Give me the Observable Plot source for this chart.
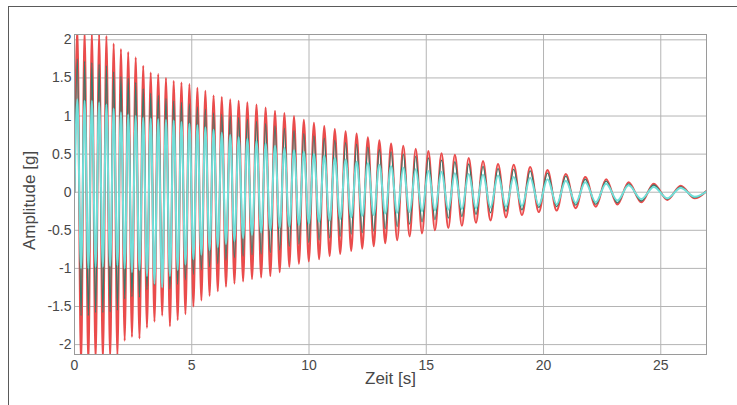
<!DOCTYPE html>
<html>
<head>
<meta charset="utf-8">
<script src="https://cdn.jsdelivr.net/npm/d3@7"></script>
<script src="https://cdn.jsdelivr.net/npm/@observablehq/plot@0.6"></script>
<style>
  html, body { margin: 0; padding: 0; background: #fff; overflow: hidden; }
  #wrap { position: relative; width: 737px; height: 405px; }
  #outer { position: absolute; left: 8px; top: 6px; width: 800px; height: 500px;
           border-left: 1.5px solid #5a5a5a; border-top: 1.5px solid #5a5a5a; }
  #chart { position: absolute; left: 0; top: 0; }
</style>
</head>
<body>
<div id="wrap"><div id="outer"></div><div id="chart"></div></div>
<script>
// tick labels
const xTicks = [0, 5, 10, 15, 20, 25];
const yTicks = [-2, -1.5, -1, -0.5, 0, 0.5, 1, 1.5, 2];

// times [s] of the positive peaks and of the following troughs
const peakTimes = [0.12,0.43,0.74,1.05,1.36,1.67,1.98,2.29,2.61,2.93,3.25,3.57,3.9,4.23,4.56,4.9,5.24,5.58,5.93,6.28,6.64,7.0,7.37,7.76,8.15,8.55,8.95,9.36,9.78,10.21,10.65,11.1,11.56,12.03,12.51,13.0,13.5,14.02,14.55,15.09,15.65,16.22,16.81,17.42,18.06,18.73,19.43,20.17,20.95,21.78,22.67,23.63,24.7,25.85];
const troughTimes = [0.28,0.59,0.9,1.21,1.52,1.83,2.14,2.45,2.77,3.09,3.41,3.74,4.07,4.4,4.73,5.07,5.41,5.76,6.11,6.46,6.82,7.19,7.57,7.96,8.35,8.75,9.16,9.57,9.99,10.43,10.88,11.33,11.8,12.27,12.76,13.25,13.76,14.29,14.82,15.37,15.94,16.52,17.12,17.74,18.4,19.08,19.8,20.56,21.37,22.23,23.15,24.17,25.28,26.45];
const startEndTimes = [0, 27];

// red signal [g]
const redPeaks = [2.15,2.12,2.1,2.08,2.05,1.95,1.88,1.84,1.77,1.66,1.57,1.55,1.5,1.46,1.44,1.42,1.37,1.33,1.27,1.25,1.22,1.2,1.18,1.15,1.11,1.07,1.04,1.0,0.95,0.91,0.87,0.83,0.8,0.77,0.72,0.68,0.64,0.61,0.57,0.54,0.51,0.49,0.45,0.41,0.37,0.36,0.33,0.29,0.24,0.2,0.17,0.13,0.11,0.085];
const redTroughs = [-2.25,-2.25,-2.2,-2.2,-2.18,-2.15,-1.95,-1.9,-1.92,-1.78,-1.7,-1.62,-1.76,-1.68,-1.6,-1.5,-1.42,-1.36,-1.3,-1.24,-1.2,-1.17,-1.14,-1.12,-1.1,-1.05,-0.98,-0.94,-0.91,-0.88,-0.84,-0.81,-0.77,-0.74,-0.71,-0.67,-0.63,-0.58,-0.54,-0.5,-0.47,-0.44,-0.4,-0.37,-0.33,-0.3,-0.26,-0.24,-0.21,-0.19,-0.16,-0.13,-0.1,-0.08];
const redStartEnd = [0, 0.03];

// dark teal signal [g]
const tealPeaks = [1.75,1.72,1.7,1.68,1.66,1.58,1.52,1.5,1.44,1.36,1.3,1.27,1.23,1.2,1.18,1.16,1.12,1.09,1.04,1.02,1.0,0.98,0.96,0.93,0.9,0.87,0.84,0.81,0.77,0.74,0.71,0.68,0.65,0.63,0.59,0.56,0.53,0.5,0.47,0.45,0.42,0.4,0.37,0.34,0.31,0.3,0.28,0.25,0.21,0.17,0.145,0.11,0.095,0.07];
const tealTroughs = [-1.62,-1.62,-1.58,-1.58,-1.57,-1.55,-1.4,-1.37,-1.38,-1.28,-1.22,-1.17,-1.27,-1.21,-1.15,-1.08,-1.02,-0.98,-0.94,-0.89,-0.86,-0.84,-0.82,-0.81,-0.79,-0.76,-0.71,-0.68,-0.66,-0.63,-0.6,-0.58,-0.55,-0.53,-0.51,-0.48,-0.45,-0.42,-0.39,-0.36,-0.34,-0.32,-0.29,-0.27,-0.25,-0.23,-0.2,-0.19,-0.17,-0.16,-0.14,-0.115,-0.09,-0.07];
const tealStartEnd = [0, 0.03];

// cyan signal [g]
const cyanPeaks = [1.22,1.2,1.2,1.18,1.15,1.1,1.05,1.02,1.0,0.98,0.97,0.96,0.95,0.94,0.92,0.9,0.88,0.85,0.82,0.78,0.75,0.72,0.7,0.67,0.64,0.61,0.58,0.55,0.53,0.5,0.48,0.45,0.43,0.4,0.38,0.36,0.34,0.32,0.3,0.28,0.27,0.25,0.24,0.23,0.22,0.2,0.19,0.17,0.15,0.13,0.11,0.09,0.07,0.055];
const cyanTroughs = [-1.0,-1.0,-0.98,-0.98,-0.97,-0.96,-1.0,-1.05,-1.02,-1.1,-1.2,-1.25,-1.1,-1.02,-0.95,-0.88,-0.82,-0.76,-0.72,-0.68,-0.64,-0.6,-0.56,-0.53,-0.5,-0.47,-0.45,-0.43,-0.41,-0.39,-0.37,-0.35,-0.33,-0.31,-0.3,-0.28,-0.27,-0.26,-0.25,-0.24,-0.23,-0.22,-0.21,-0.2,-0.19,-0.18,-0.17,-0.16,-0.14,-0.13,-0.11,-0.09,-0.08,-0.06];
const cyanStartEnd = [0, 0.02];

function buildSeries(peaks, troughs, startEnd) {
  const pts = [{t: startEndTimes[0], v: startEnd[0]}];
  for (let i = 0; i < peakTimes.length; i++) {
    pts.push({t: peakTimes[i], v: peaks[i]});
    pts.push({t: troughTimes[i], v: troughs[i]});
  }
  pts.push({t: startEndTimes[1], v: startEnd[1]});
  return pts;
}
const red = buildSeries(redPeaks, redTroughs, redStartEnd);
const teal = buildSeries(tealPeaks, tealTroughs, tealStartEnd);
const cyan = buildSeries(cyanPeaks, cyanTroughs, cyanStartEnd);

const font = "'Liberation Sans', Arial, sans-serif";
const chart = Plot.plot({
  width: 737,
  height: 405,
  marginLeft: 74,
  marginRight: 31,
  marginTop: 34,
  marginBottom: 51,
  style: {fontFamily: font, fontSize: "14px", color: "#484848", background: "transparent"},
  x: {domain: [0, 26.95], label: null},
  y: {domain: [-2.13, 2.07], label: null},
  marks: [
    Plot.gridX(xTicks, {stroke: "#b4b4b4", strokeOpacity: 1, strokeWidth: 1}),
    Plot.gridY(yTicks, {stroke: "#b4b4b4", strokeOpacity: 1, strokeWidth: 1}),
    Plot.line(red, {x: "t", y: "v", stroke: "#ea4c4c", strokeWidth: 2.1, curve: "monotone-x", clip: true}),
    Plot.line(teal, {x: "t", y: "v", stroke: "#377a6c", strokeWidth: 1.3, curve: "monotone-x", clip: true}),
    Plot.line(cyan, {x: "t", y: "v", stroke: "#72dfd9", strokeWidth: 2.0, curve: "monotone-x", clip: true}),
    Plot.frame({stroke: "#9a9a9a", strokeWidth: 1}),
    Plot.axisX(xTicks, {tickSize: 0, tickPadding: 6, fontSize: 14, label: null, tickFormat: d => String(d)}),
    Plot.axisY(yTicks, {tickSize: 0, tickPadding: 3, fontSize: 14, label: null, tickFormat: d => String(d)}),
    Plot.text(["Zeit [s]"], {frameAnchor: "bottom", dy: 29, fontSize: 17, fill: "#484848"}),
    Plot.text(["Amplitude [g]"], {frameAnchor: "left", textAnchor: "middle", dx: -45, dy: 6, rotate: -90, fontSize: 17, fill: "#484848"})
  ]
});
document.getElementById("chart").appendChild(chart);
</script>
</body>
</html>
